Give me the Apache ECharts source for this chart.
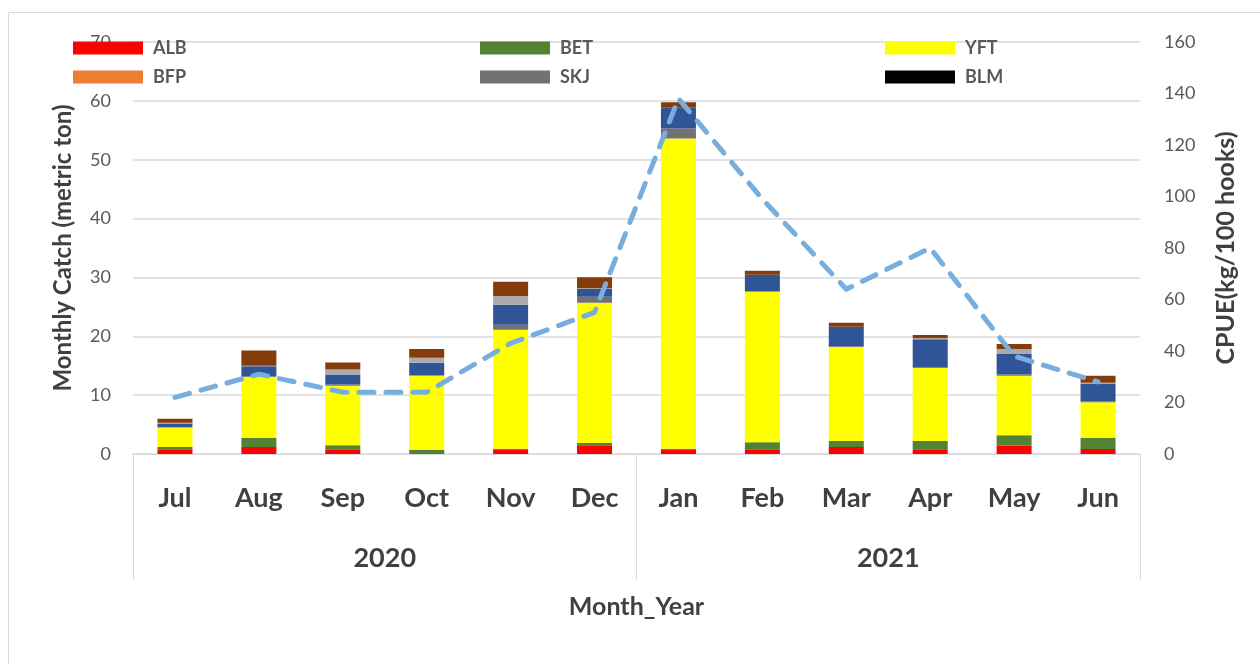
<!DOCTYPE html>
<html>
<head>
<meta charset="utf-8">
<title>Monthly Catch</title>
<script src="https://cdn.jsdelivr.net/npm/echarts@6/dist/echarts.min.js"></script>
<style>
	html, body { margin: 0; padding: 0; background: #fff; }
	#chart { width: 1260px; height: 664px; }
</style>
</head>
<body>
<div id="chart"></div>
<script>
// months and years on the two-level x axis
const months = ['Jul', 'Aug', 'Sep', 'Oct', 'Nov', 'Dec', 'Jan', 'Feb', 'Mar', 'Apr', 'May', 'Jun']
const years = ['2020', '2021']

// monthly catch per species (metric ton)
const alb = [0.8, 1.2, 0.8, 0, 0.8, 1.5, 0.8, 0.8, 1.2, 0.8, 1.4, 0.85]
const bfp = [0, 0, 0, 0, 0, 0, 0, 0, 0, 0, 0, 0]
const bet = [0.4, 1.5, 0.7, 0.7, 0.1, 0.35, 0.1, 1.2, 1.0, 1.4, 1.8, 1.9]
const yft = [3.3, 10.4, 10.1, 12.6, 20.2, 23.85, 52.7, 25.55, 16.0, 12.4, 10.1, 6.05]
const skj = [0.1, 0.1, 0.2, 0.1, 0.85, 1.0, 1.7, 0.1, 0.1, 0.1, 0.2, 0.1]
const blm = [0, 0, 0, 0, 0, 0, 0, 0, 0, 0, 0, 0]
// species without a visible legend entry
const swo = [0.6, 1.7, 1.7, 2.1, 3.4, 1.35, 3.6, 2.8, 3.3, 4.8, 3.5, 3.0]
const mls = [0.1, 0.1, 0.85, 0.85, 1.5, 0.1, 0, 0, 0, 0.2, 0.85, 0.2]
const shk = [0.7, 2.6, 1.2, 1.5, 2.4, 1.9, 0.85, 0.7, 0.7, 0.5, 0.85, 1.2]

// CPUE (kg/100 hooks)
const cpue = [22, 31, 24, 24, 43, 55, 138, 99, 64, 80, 38, 28]

const FONT = 'Lato, "Liberation Sans", sans-serif'
const GRID_COLOR = '#d9d9d9'
const TEXT_COLOR = '#595959'
const DARK_TEXT = '#404040'

const species = [
	{ name: 'ALB', data: alb, color: '#ff0000' },
	{ name: 'BFP', data: bfp, color: '#ed7d31' },
	{ name: 'BET', data: bet, color: '#548235' },
	{ name: 'YFT', data: yft, color: '#ffff00' },
	{ name: 'SKJ', data: skj, color: '#767171' },
	{ name: 'BLM', data: blm, color: '#000000' },
	{ name: 'SWO', data: swo, color: '#2f5597' },
	{ name: 'MLS', data: mls, color: '#aeaaaa' },
	{ name: 'SHK', data: shk, color: '#843c0c' }
]

const legendBase = {
	orient: 'vertical',
	top: 34,
	itemWidth: 70,
	itemHeight: 13,
	itemGap: 11,
	icon: 'rect',
	selectedMode: false,
	textStyle: { fontFamily: FONT, fontSize: 18, fontWeight: 'bold', color: TEXT_COLOR, padding: [0, 0, 0, 5] }
}

const chart = echarts.init(document.getElementById('chart'))

chart.setOption({
	animation: false,
	backgroundColor: '#fff',
	graphic: [{
		type: 'rect',
		shape: { x: 8.5, y: 12.5, width: 1300, height: 700 },
		style: { fill: 'none', stroke: GRID_COLOR, lineWidth: 1 },
		silent: true,
		z: -10
	}],
	legend: [
		Object.assign({}, legendBase, { left: 68, data: ['ALB', 'BFP'] }),
		Object.assign({}, legendBase, { left: 475, data: ['BET', 'SKJ'] }),
		Object.assign({}, legendBase, { left: 880, data: ['YFT', 'BLM'] })
	],
	grid: { left: 133, right: 120, top: 42, bottom: 210 },
	xAxis: [{
		type: 'category',
		data: months,
		axisLine: { lineStyle: { color: GRID_COLOR } },
		axisTick: { show: false },
		axisLabel: { fontFamily: FONT, fontSize: 27, fontWeight: 'bold', color: DARK_TEXT, margin: 31, interval: 0 }
	}, {
		type: 'category',
		data: years,
		position: 'bottom',
		axisLine: { show: false },
		axisTick: { show: true, length: 126, lineStyle: { color: GRID_COLOR } },
		axisLabel: { fontFamily: FONT, fontSize: 27, fontWeight: 'bold', color: DARK_TEXT, margin: 91 },
		name: 'Month_Year',
		nameLocation: 'middle',
		nameGap: 140,
		nameTextStyle: { fontFamily: FONT, fontSize: 25, fontWeight: 'bold', color: DARK_TEXT }
	}],
	yAxis: [{
		type: 'value',
		min: 0,
		max: 70,
		interval: 10,
		name: 'Monthly Catch (metric ton)',
		nameLocation: 'middle',
		nameGap: 58,
		nameTextStyle: { fontFamily: FONT, fontSize: 24, fontWeight: 'bold', color: DARK_TEXT },
		axisLabel: { fontFamily: FONT, fontSize: 18, color: TEXT_COLOR, margin: 22 },
		splitLine: { lineStyle: { color: GRID_COLOR, width: 1.5 } },
		axisLine: { show: false },
		axisTick: { show: false }
	}, {
		type: 'value',
		min: 0,
		max: 160,
		interval: 20,
		name: 'CPUE(kg/100 hooks)',
		nameLocation: 'middle',
		nameGap: 73,
		nameTextStyle: { fontFamily: FONT, fontSize: 25, fontWeight: 'bold', color: DARK_TEXT },
		axisLabel: { fontFamily: FONT, fontSize: 18, color: TEXT_COLOR, margin: 24 },
		splitLine: { show: false },
		axisLine: { show: false },
		axisTick: { show: false }
	}],
	series: species.map(s => ({
		name: s.name,
		type: 'bar',
		stack: 'catch',
		barWidth: 35,
		data: s.data,
		itemStyle: { color: s.color }
	})).concat([{
		name: 'CPUE',
		type: 'line',
		yAxisIndex: 1,
		data: cpue,
		symbol: 'none',
		lineStyle: { color: '#78aedd', width: 5, type: [15, 12], cap: 'round', join: 'round' },
		z: 5
	}])
})
</script>
</body>
</html>
